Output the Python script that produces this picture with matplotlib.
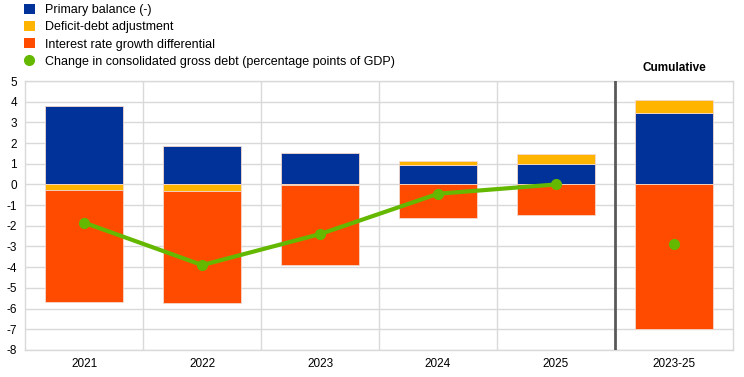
import numpy as np
import matplotlib
matplotlib.use("Agg")
import matplotlib.pyplot as plt
from matplotlib.lines import Line2D
from matplotlib.patches import Patch

plt.rcParams["font.family"] = ["Liberation Sans", "DejaVu Sans"]

categories = ["2021", "2022", "2023", "2024", "2025", "2023-25"]
primary_balance = [3.8, 1.85, 1.5, 0.95, 1.0, 3.45]
deficit_debt_adj = [-0.25, -0.3, -0.05, 0.2, 0.45, 0.62]
interest_growth = [-5.45, -5.45, -3.85, -1.63, -1.5, -7.0]
debt_change = [-1.85, -3.9, -2.4, -0.45, 0.0, -2.87]

BLUE = "#003299"
YELLOW = "#FFB400"
ORANGE = "#FF4B00"
GREEN = "#65B800"

fig = plt.figure(figsize=(7.44, 3.77), dpi=100)
ax = fig.add_axes([0.034, 0.072, 0.951, 0.713])

x = np.arange(len(categories))
pos_bottom = np.zeros(len(x))
neg_bottom = np.zeros(len(x))
for vals, color in [(primary_balance, BLUE), (deficit_debt_adj, YELLOW), (interest_growth, ORANGE)]:
    vals = np.array(vals)
    bottom = np.where(vals >= 0, pos_bottom, neg_bottom)
    ax.bar(x, vals, bottom=bottom, width=0.66, color=color,
           edgecolor="#f4d8cc", linewidth=0.6, zorder=3)
    pos_bottom += np.where(vals >= 0, vals, 0)
    neg_bottom += np.where(vals < 0, vals, 0)

# line for single years, separate dot for the cumulative column
ax.plot(x[:5], debt_change[:5], color=GREEN, linewidth=3, marker="o",
        markersize=7, zorder=4)
ax.plot(x[5:], debt_change[5:], color=GREEN, linestyle="none", marker="o",
        markersize=7, zorder=4)

ax.set_xlim(-0.5, len(x) - 0.5)
ax.set_ylim(-8, 5)
ax.set_yticks(range(-8, 6))
ax.set_yticklabels([str(v) if v >= 0 else "-" + str(-v) for v in range(-8, 6)])
ax.set_xticks(x)
ax.set_xticklabels(categories)
ax.tick_params(length=0, labelsize=8.5, colors="#000000")
ax.tick_params(axis="y", pad=6)
ax.tick_params(axis="x", pad=6)

ax.set_axisbelow(True)
ax.grid(axis="y", color="#d9d9d9", linewidth=1)
for b in np.arange(0.5, len(x) - 1, 1.0):
    if b == 4.5:
        ax.axvline(b, color="#595959", linewidth=2, zorder=5)
    else:
        ax.axvline(b, color="#d9d9d9", linewidth=1, zorder=1)
for s in ax.spines.values():
    s.set_color("#d9d9d9")
    s.set_linewidth(1)

ax.text(5, 5.35, "Cumulative", ha="center", va="bottom", fontsize=8.5,
        fontweight="bold")

handles = [
    Patch(facecolor=BLUE, label="Primary balance (-)"),
    Patch(facecolor=YELLOW, label="Deficit-debt adjustment"),
    Patch(facecolor=ORANGE, label="Interest rate growth differential"),
    Line2D([], [], color=GREEN, marker="o", linestyle="none", markersize=7,
           label="Change in consolidated gross debt (percentage points of GDP)"),
]
fig.legend(handles=handles, loc="upper left", bbox_to_anchor=(0.025, 1.003),
           frameon=False, fontsize=9, handlelength=0.9, handleheight=0.9,
           handletextpad=0.8, labelspacing=0.37, borderaxespad=0)

fig.savefig("out.png", dpi=100)
